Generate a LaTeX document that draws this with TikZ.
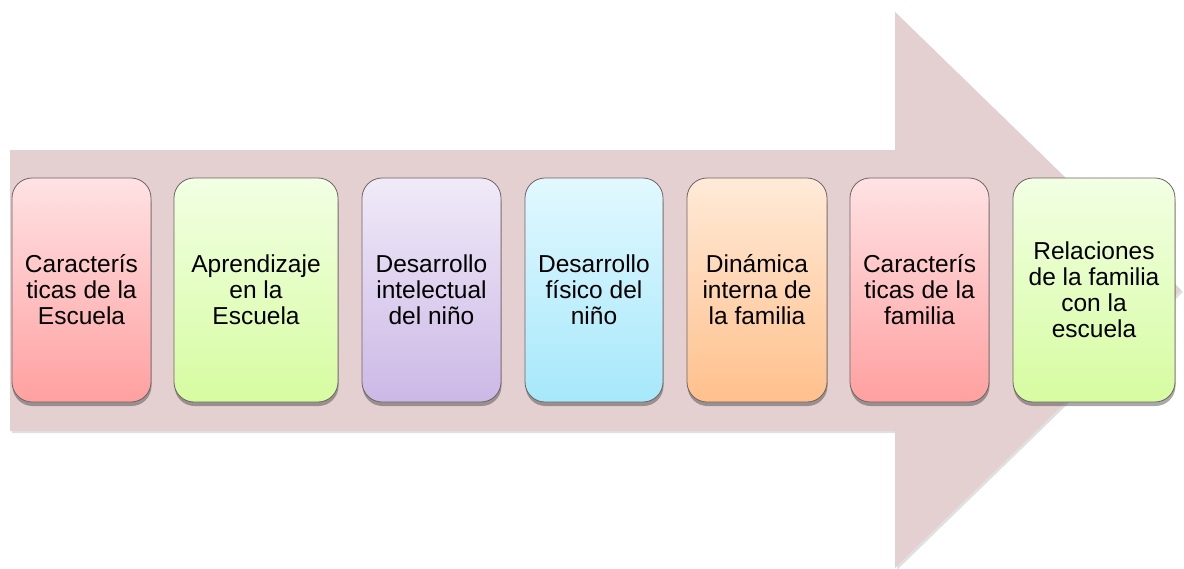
\documentclass[tikz,border=0pt]{standalone}
\usepackage{fontspec}
\setmainfont{Liberation Sans}
\usetikzlibrary{shadows}

\definecolor{arrowfill}{RGB}{229,208,209}
\definecolor{cardline}{RGB}{110,100,100}
\definecolor{redtop}{RGB}{255,226,228}
\definecolor{redbot}{RGB}{255,160,160}
\definecolor{grntop}{RGB}{242,255,228}
\definecolor{grnbot}{RGB}{214,252,160}
\definecolor{purtop}{RGB}{240,234,248}
\definecolor{purbot}{RGB}{204,184,230}
\definecolor{cyntop}{RGB}{226,248,255}
\definecolor{cynbot}{RGB}{166,232,250}
\definecolor{orgtop}{RGB}{255,234,216}
\definecolor{orgbot}{RGB}{255,192,140}

\begin{document}
\begin{tikzpicture}[x=1pt,y=-1pt,
  card/.style={draw=cardline, line width=0.8pt, rounded corners=20pt,
    minimum height=224pt, inner sep=0pt, align=center,
    font=\fontsize{24.5}{26}\selectfont,
    drop shadow={shadow xshift=0.5pt, shadow yshift=-4pt, opacity=0.45, fill=black!75}},
  redcard/.style={card, top color=redtop, bottom color=redbot},
  grncard/.style={card, top color=grntop, bottom color=grnbot},
  purcard/.style={card, top color=purtop, bottom color=purbot},
  cyncard/.style={card, top color=cyntop, bottom color=cynbot},
  orgcard/.style={card, top color=orgtop, bottom color=orgbot},
]
\useasboundingbox (0,0) rectangle (1184,568);

% big background arrow
\fill[arrowfill, drop shadow={shadow xshift=2pt, shadow yshift=-2pt, opacity=0.2, fill=black!60}]
  (10,150) -- (895,150) -- (895,12) -- (1181,290) -- (895,568) -- (895,431) -- (10,431) -- cycle;

% stages along the arrow
\node[redcard, minimum width=139pt] (b1) at (81.5,290) {Caracterís\\ticas de la\\Escuela};
\node[grncard, minimum width=164pt] (b2) at (256,290) {Aprendizaje\\en la\\Escuela};
\node[purcard, minimum width=139pt] (b3) at (431.5,290) {Desarrollo\\intelectual\\del niño};
\node[cyncard, minimum width=138pt] (b4) at (594,290) {Desarrollo\\físico del\\niño};
\node[orgcard, minimum width=140pt] (b5) at (757,290) {Dinámica\\interna de\\la familia};
\node[redcard, minimum width=139pt] (b6) at (919.5,290) {Caracterís\\ticas de la\\familia};
\node[grncard, minimum width=162pt] (b7) at (1094,290) {Relaciones\\de la familia\\con la\\escuela};
\end{tikzpicture}
\end{document}
